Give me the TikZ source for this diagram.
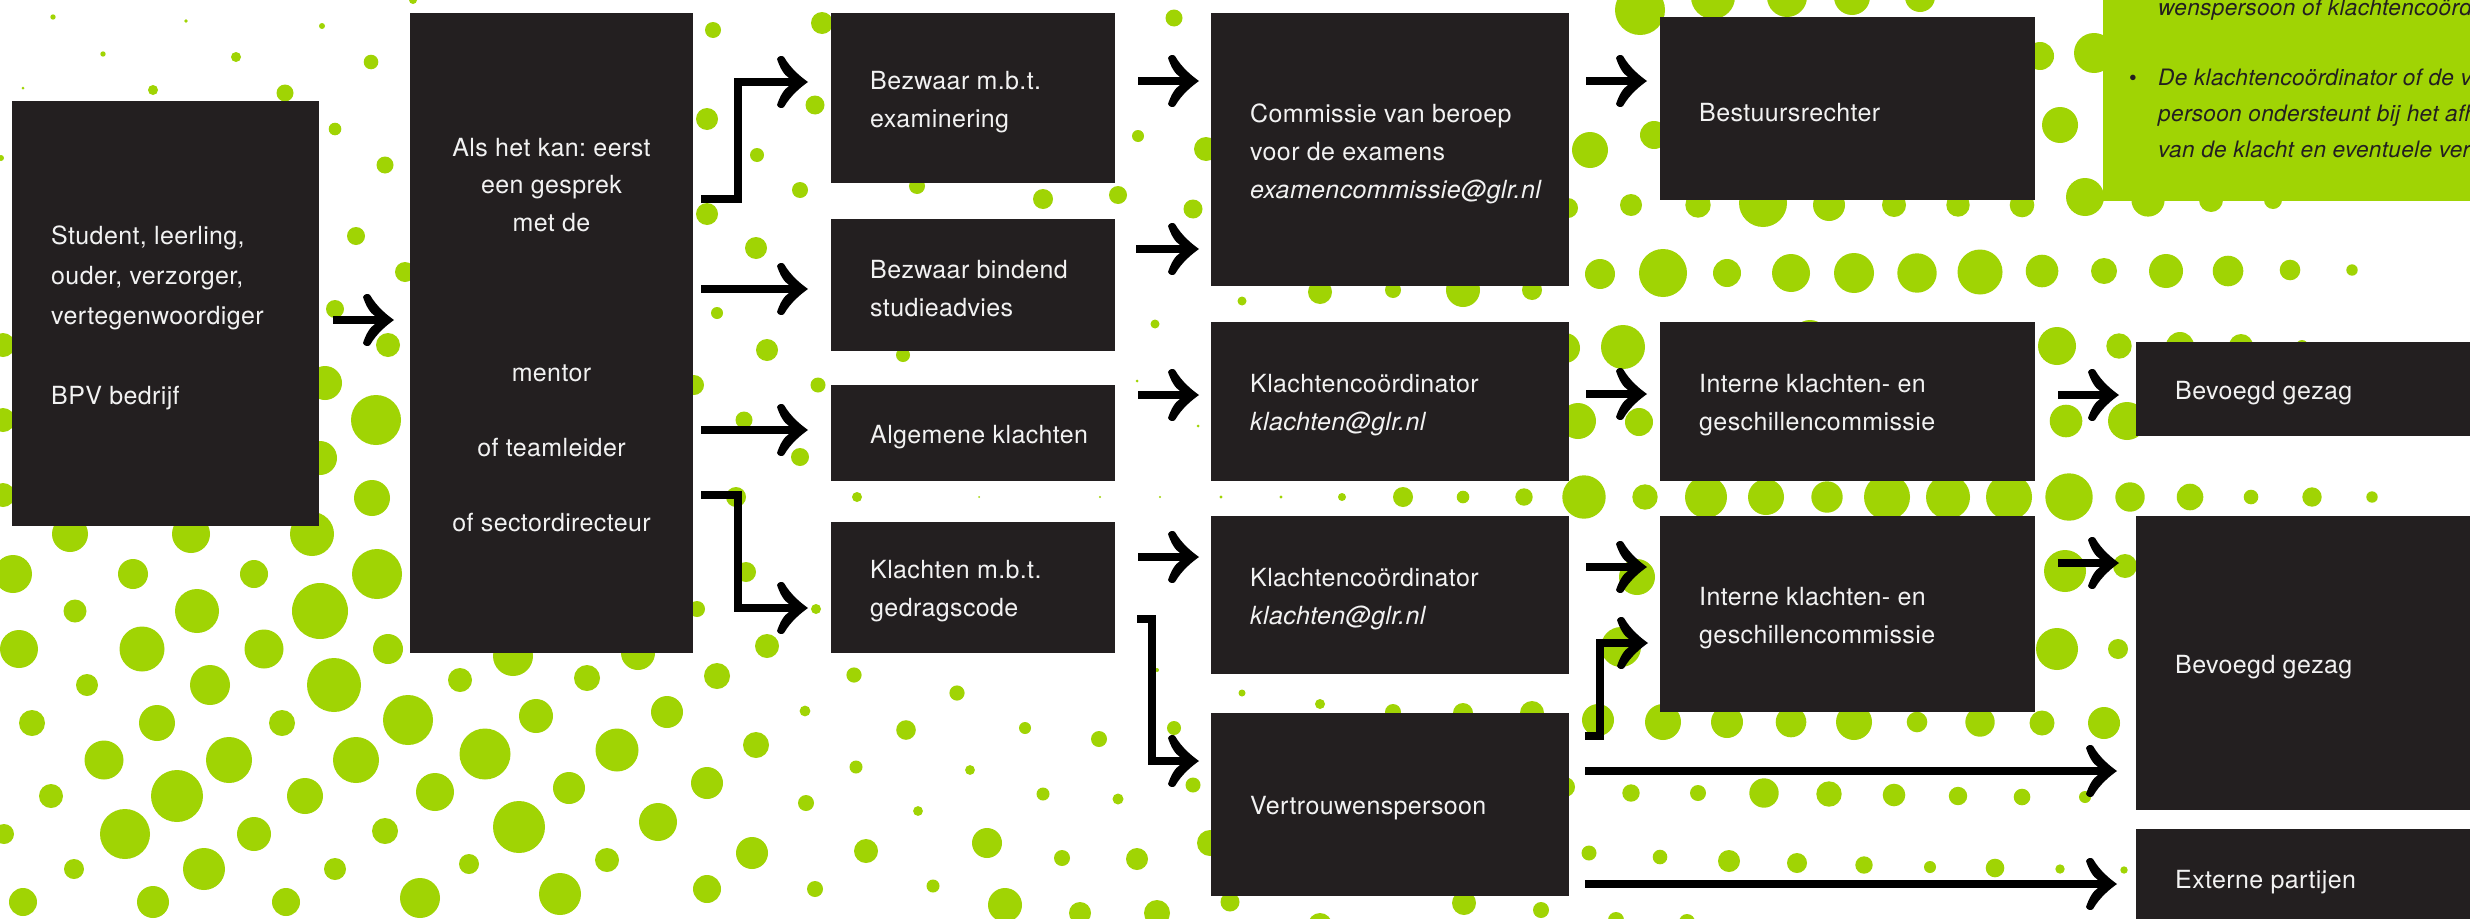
\documentclass[tikz,border=0pt]{standalone}
\usepackage{fontspec}
\setmainfont{TeX Gyre Heros}[LetterSpace=1.5]
\usetikzlibrary{arrows.meta,calc}
\definecolor{dotgreen}{RGB}{160,212,4}
\definecolor{boxdark}{RGB}{35,31,32}
\definecolor{boxtext}{RGB}{242,242,242}
\pgfdeclarearrow{
  name = MyBarb,
  setup code = {
    \pgfarrowssettipend{0pt}
    \pgfarrowssetbackend{-32pt}
    \pgfarrowssetlineend{-17pt}
    \pgfarrowsupperhullpoint{0pt}{0pt}
    \pgfarrowsupperhullpoint{-32pt}{26pt}
  },
  drawing code = {
    \pgfpathmoveto{\pgfpoint{0pt}{0pt}}
    \pgfpathcurveto{\pgfpoint{-7pt}{5pt}}{\pgfpoint{-17pt}{13pt}}{\pgfpoint{-24pt}{25pt}}
    \pgfpathcurveto{\pgfpoint{-26pt}{27pt}}{\pgfpoint{-30pt}{26pt}}{\pgfpoint{-31pt}{23pt}}
    \pgfpathcurveto{\pgfpoint{-28pt}{14pt}}{\pgfpoint{-24pt}{7pt}}{\pgfpoint{-19pt}{4pt}}
    \pgfpathlineto{\pgfpoint{-19pt}{-4pt}}
    \pgfpathcurveto{\pgfpoint{-24pt}{-7pt}}{\pgfpoint{-28pt}{-14pt}}{\pgfpoint{-31pt}{-23pt}}
    \pgfpathcurveto{\pgfpoint{-30pt}{-26pt}}{\pgfpoint{-26pt}{-27pt}}{\pgfpoint{-24pt}{-25pt}}
    \pgfpathcurveto{\pgfpoint{-17pt}{-13pt}}{\pgfpoint{-7pt}{-5pt}}{\pgfpoint{0pt}{0pt}}
    \pgfpathclose
    \pgfusepathqfill
  }
}
\begin{document}
\frenchspacing
\begin{tikzpicture}[x=1pt,y=-1pt,
  box/.style={fill=boxdark,draw=none,inner sep=0pt,outer sep=0pt,anchor=north west},
  txt/.style={text=boxtext,font=\frenchspacing\fontsize{25}{38}\selectfont,align=left,anchor=west,inner sep=0pt},
  gtxt/.style={text=boxdark,font=\fontsize{22.6}{36}\selectfont\itshape,anchor=base west,inner sep=0pt},
  arr/.style={line width=8pt,line join=miter,-{MyBarb}}]
\useasboundingbox (0,0) rectangle (2470,918);
\clip (0,0) rectangle (2470,918);
\fill[white] (0,0) rectangle (2470,918);
% background dots
\foreach \x/\y/\r in {
53/17/2.7,186/21/1.8,322/26/3,103/54/2.7,236/57/5,371/62/7.3,23/88/1.5,153/90/5,285/93/8.5,335/129/6.3,413/0/4,385/165/8.5,356/236/9,1/158/3,405/272/10,335/309/9,388/345/12,325/383/17,376/420/25,320/458/17,372/498/18,312/534/22,70/534/18,191/534/19,3/345/12,3/420/12,3/495/12,
13/574/19,133/574/15,254/574/14,377/574/25,
75/611/11.5,197/611/22,320/611/28,
19/649/19,142/649/22.5,264/649/19.5,388/649/15,
87/685/11,210/685/20,334/685/27,460/680/12,587/678/13,717/676/13,
32/723/13,157/723/18,282/723/13,408/720/25,536/716/17,667/712/16,
104/760/19.5,229/760/23,356/760/23,485/754/25.5,617/750/21.5,756/745/13,
51/796/12,177/796/26,305/796/18,435/792/19,569/788/16,707/783/16,
4/834/10,125/834/25,254/834/17,385/831/13,519/827/26,658/822/19,
74/869/10,204/869/21,335/869/11,469/864/10,607/860/12,752/853/16,
23/902/14,153/902/16,286/902/14,420/898/20,560/894/21,707/889/14,
513/656/20,638/653/17,
713/30/8,707/119/11,757/155/7,707/214/11,756/248/11,717/313/6,767/350/11,744/420/8.5,694/385/10,800/457/9,736/497/10,746/572/10,697/609/8,767/646/12,800/190/8,822/23/11,815/105/9.5,
917/186/8,1043/199/10,1118/195/9,1138/136/6,1193/209/9.5,1174/18/8.5,1206/149/12,903/355/7,818/385/7.5,1155/324/4.5,1242/301/4.5,1137/381/1.5,1198/426/1.5,
857/497/5,979/497/1,1100/497/1.2,1160/497/1.2,1221/497/1.7,1281/497/1.7,1342/497/4,1403/497/10,1463/497/6.3,1524/497/8.7,1584/497/21.7,
816/609/5,
854/675/7.6,957/693/7.6,805/711/5.4,906/730/9.8,1025/728/6,1099/739/8,856/767/6.5,970/770/4.9,1043/794/6.5,1118/799/5.5,806/803/8,918/811/4.9,866/851/12,987/843/15,1062/858/8,1137/859/11,815/889/8,933/886/6.5,1005/905/17,1080/913/11,1157/913/13,
1157/670/2,1242/693/3.5,1320/704/5,1393/712/8,1463/713/10,1532/713/12,1598/720/16,1174/728/7,1193/785/7.5,1565/787/10,1210/843/13,1589/853/7.5,1230/902/9.5,1320/925/12,1464/903/12,1541/910/8,
1320/292/12,1393/290/8,1463/290/17,1532/290/10,1600/274/15,1565/348/15,1578/421/18,1590/150/18,1568/208/10,
1640/10/25,1713/-3/22,1787/-3/20,1852/-3/18,1920/-3/15,2094/53/20,2060/125/18,2040/56/14,1654/135/14,
1631/205/11,1698/205/12.7,1763/203/24,1829/205/16,1894/205/12,1958/205/11.7,2022/205/12.3,2085/197/19,2148/200/16.6,2211/200/12,2273/200/9,
1663/273/24,1727/273/14,1791/273/19,1854/273/20,1917/273/19.7,1980/272/22.5,2042/271/16.3,2104/271/13,2166/271/17,2228/271/15.3,2290/270/10.3,2352/270/5.7,
1623/347/22,1810/338/18,2057/346/19,2119/346/12.7,2180/346/14,2241/346/12,2302/346/6,
1639/422/14,2066/421/16.3,2127/421/19,
1645/497/12.7,1706/497/21,1766/497/18,1827/497/15.7,1887/497/23,1948/497/22,2009/497/23,2069/497/23.7,2130/497/14.7,2190/497/13.3,2251/497/7.3,2312/497/9.7,2372/497/5.7,
1637/577/18,2065/571/21,2125/566/12,
1621/647/20,2057/649/21,2118/649/10,
1663/722/18,1727/722/16,1791/722/15.3,1854/722/18,1917/722/10.3,1980/722/14.7,2042/723/12.5,2104/723/16,
1631/793/8.7,1698/793/8,1764/793/14.7,1829/794/12.7,1894/795/11.3,1958/796/9.2,2022/797/8.3,2085/797/6,
1660/857/7.3,1729/861/11,1797/863/10,1864/865/8.7,1930/867/6,1995/868/9.3,2060/869/4.7,2124/870/3.7,
1616/920/8,1687/922/8}
  {\fill[dotgreen] (\x,\y) circle[radius=\r pt];}
% green info panel
\node[fill=dotgreen,draw=none,inner sep=0pt,anchor=north west,minimum width=380pt,minimum height=211pt] (gbox) at (2103,-10) {};
\node[gtxt] (g1) at (2158,16) {wenspersoon of klachtencoörd};
\node[text=boxdark,font=\fontsize{22}{36}\selectfont,anchor=base,inner sep=0pt] (gb) at (2133,85) {\textbullet};
\node[gtxt] (g2) at (2158,85) {De klachtencoördinator of de v};
\node[gtxt] (g3) at (2158,121) {persoon ondersteunt bij het afh};
\node[gtxt] (g4) at (2158,157) {van de klacht en eventuele ver};
% boxes
\node[box,minimum width=307pt,minimum height=425pt] (b1) at (12,101) {};
\node[box,minimum width=283pt,minimum height=640pt] (b2) at (410,13) {};
\node[box,minimum width=284pt,minimum height=170pt] (b3) at (831,13) {};
\node[box,minimum width=284pt,minimum height=132pt] (b4) at (831,219) {};
\node[box,minimum width=284pt,minimum height=96pt] (b5) at (831,385) {};
\node[box,minimum width=284pt,minimum height=131pt] (b6) at (831,522) {};
\node[box,minimum width=358pt,minimum height=273pt] (b7) at (1211,13) {};
\node[box,minimum width=358pt,minimum height=159pt] (b8) at (1211,322) {};
\node[box,minimum width=358pt,minimum height=158pt] (b9) at (1211,516) {};
\node[box,minimum width=358pt,minimum height=183pt] (b10) at (1211,713) {};
\node[box,minimum width=375pt,minimum height=183pt] (b11) at (1660,17) {};
\node[box,minimum width=375pt,minimum height=159pt] (b12) at (1660,322) {};
\node[box,minimum width=375pt,minimum height=196pt] (b13) at (1660,516) {};
\node[box,minimum width=345pt,minimum height=94pt] (b14) at (2136,342) {};
\node[box,minimum width=345pt,minimum height=294pt] (b15) at (2136,516) {};
\node[box,minimum width=345pt,minimum height=99pt] (b16) at (2136,829) {};
% texts
\node[txt,font=\fontsize{25}{40}\selectfont] (t1) at ($(b1.west)+(39,4)$) {Student, leerling,\\ouder, verzorger,\\vertegenwoordiger\\[40pt]BPV bedrijf};
\node[txt,align=center,anchor=center,font=\fontsize{25}{37.5}\selectfont] (t2) at ($(b2.center)+(0,2)$) {Als het kan: eerst\\een gesprek\\met de\\[112.5pt]mentor\\[37.5pt]of teamleider\\[37.5pt]of sectordirecteur};
\node[txt] (t3) at ($(b3.west)+(39,4)$) {Bezwaar m.b.t.\\examinering};
\node[txt] (t4) at ($(b4.west)+(39,4)$) {Bezwaar bindend\\studieadvies};
\node[txt] (t5) at ($(b5.west)+(39,4)$) {Algemene klachten};
\node[txt] (t6) at ($(b6.west)+(39,4)$) {Klachten m.b.t.\\gedragscode};
\node[txt] (t7) at ($(b7.west)+(39,4)$) {Commissie van beroep\\voor de examens\\\textit{examencommissie@glr.nl}};
\node[txt] (t8) at ($(b8.west)+(39,4)$) {Klachtencoördinator\\\textit{klachten@glr.nl}};
\node[txt] (t9) at ($(b9.west)+(39,4)$) {Klachtencoördinator\\\textit{klachten@glr.nl}};
\node[txt] (t10) at ($(b10.west)+(39,4)$) {Vertrouwenspersoon};
\node[txt] (t11) at ($(b11.west)+(39,4)$) {Bestuursrechter};
\node[txt] (t12) at ($(b12.west)+(39,4)$) {Interne klachten- en\\geschillencommissie};
\node[txt] (t13) at ($(b13.west)+(39,4)$) {Interne klachten- en\\geschillencommissie};
\node[txt] (t14) at ($(b14.west)+(39,4)$) {Bevoegd gezag};
\node[txt] (t15) at ($(b15.west)+(39,4)$) {Bevoegd gezag};
\node[txt] (t16) at ($(b16.west)+(39,4)$) {Externe partijen};
% connectors
\draw[arr] ($(b1.east)+(14,6.5)$) -- ($(b2.west)+(-16,-13)$);
\draw[arr] ($(b2.east)+(8,-134)$) -- ++(37,0) |- ($(b3.west)+(-23,-16)$);
\draw[arr] ($(b2.east)+(8,-44)$) -- ($(b4.west)+(-23,4)$);
\draw[arr] ($(b2.east)+(8,97)$) -- ($(b5.west)+(-23,-3)$);
\draw[arr] ($(b2.east)+(8,162)$) -- ++(37,0) |- ($(b6.west)+(-23,20.5)$);
\draw[arr] ($(b3.east)+(23,-17)$) -- ($(b7.west)+(-12,-68.5)$);
\draw[arr] ($(b4.east)+(21,-36)$) -- ($(b7.west)+(-12,99.5)$);
\draw[arr] ($(b5.east)+(23,-38)$) -- ($(b8.west)+(-12,-6.5)$);
\draw[arr] ($(b6.east)+(23,-30.5)$) -- ($(b9.west)+(-12,-38)$);
\draw[arr] ($(b6.east)+(22,31.5)$) -- ++(15,0) |- ($(b10.west)+(-12,-43.5)$);
\draw[arr] ($(b7.east)+(17,-68.5)$) -- ($(b11.west)+(-13,-27.5)$);
\draw[arr] ($(b8.east)+(17,-7.5)$) -- ($(b12.west)+(-13,-7.5)$);
\draw[arr] ($(b9.east)+(17,-28)$) -- ($(b13.west)+(-13,-47)$);
\draw[arr] ($(b10.east)+(16,-68.5)$) -- ++(15,0) |- ($(b13.west)+(-12,29)$);
\draw[arr] ($(b10.east)+(16,-33.5)$) -- ($(b15.west)+(-19,108)$);
\draw[arr] ($(b10.east)+(16,79.5)$) -- ($(b16.west)+(-19,5.5)$);
\draw[arr] ($(b12.east)+(23,-6.5)$) -- ($(b14.west)+(-17,6)$);
\draw[arr] ($(b13.east)+(23,-51)$) -- ($(b15.west)+(-17,-100)$);
\end{tikzpicture}
\end{document}
